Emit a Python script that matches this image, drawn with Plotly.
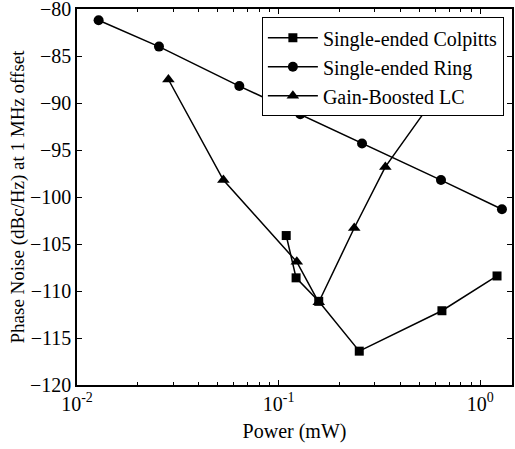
import plotly.graph_objects as go

colpitts_x = [0.109, 0.122, 0.158, 0.251, 0.645, 1.21]
colpitts_y = [-104.1, -108.6, -111.1, -116.4, -112.1, -108.4]

ring_x = [0.0128, 0.0255, 0.0638, 0.128, 0.259, 0.638, 1.28]
ring_y = [-81.2, -84.0, -88.2, -91.2, -94.3, -98.2, -101.3]

lc_x = [0.0284, 0.0532, 0.123, 0.158, 0.237, 0.338, 0.56]
lc_y = [-87.5, -98.2, -106.9, -111.2, -103.3, -96.8, -90.2]

xtick_vals = [0.01, 0.1, 1]
xtick_text = ["10<sup>-2</sup>", "10<sup>-1</sup>", "10<sup>0</sup>"]

FONT = "Liberation Serif"

fig = go.Figure()
fig.add_trace(go.Scatter(x=colpitts_x, y=colpitts_y, mode="lines+markers",
                         name="Single-ended Colpitts",
                         line=dict(color="black", width=1.5),
                         marker=dict(symbol="square", size=9, color="black")))
fig.add_trace(go.Scatter(x=ring_x, y=ring_y, mode="lines+markers",
                         name="Single-ended Ring",
                         line=dict(color="black", width=1.5),
                         marker=dict(symbol="circle", size=10, color="black")))
fig.add_trace(go.Scatter(x=lc_x, y=lc_y, mode="lines+markers",
                         name="Gain-Boosted LC",
                         line=dict(color="black", width=1.5),
                         marker=dict(symbol="triangle-up", size=11, color="black")))

minor_vals = [m * 10 ** e for e in (-2, -1, 0) for m in range(2, 10)]

fig.update_layout(
    width=515, height=449,
    margin=dict(l=77, r=3, t=9, b=64),
    paper_bgcolor="white", plot_bgcolor="white",
    font=dict(family=FONT, size=20, color="black"),
    showlegend=True,
    legend=dict(x=0.425, y=0.978, xanchor="left", yanchor="top",
                bgcolor="white", bordercolor="black", borderwidth=1,
                font=dict(family=FONT, size=20), tracegroupgap=0,
                itemwidth=50),
    xaxis=dict(type="log", range=[-2, 0.157], automargin=False,
               tickmode="array", tickvals=xtick_vals, ticktext=xtick_text,
               ticks="inside", ticklen=5, tickwidth=1, tickcolor="black",
               showline=True, linecolor="black", linewidth=1.5, mirror="allticks",
               showgrid=False, zeroline=False, ticklabeloverflow="allow",
               tickfont=dict(family=FONT, size=20),
               minor=dict(tickmode="array", tickvals=minor_vals, ticks="inside",
                          ticklen=3, tickwidth=1, tickcolor="black", showgrid=False),
               title=dict(text="Power (mW)", font=dict(family=FONT, size=20), standoff=10)),
    yaxis=dict(range=[-120, -80], tickmode="linear", tick0=-120, dtick=5,
               automargin=False,
               ticks="inside", ticklen=5, tickwidth=1, tickcolor="black",
               showline=True, linecolor="black", linewidth=1.5, mirror="allticks",
               showgrid=False, zeroline=False, ticklabeloverflow="allow",
               tickfont=dict(family=FONT, size=20),
               title=dict(text="Phase Noise (dBc/Hz) at 1 MHz offset",
                          font=dict(family=FONT, size=19), standoff=0)),
)

fig.write_html("out.html", config={"displayModeBar": False},
               post_script="document.body.style.margin='0';")
